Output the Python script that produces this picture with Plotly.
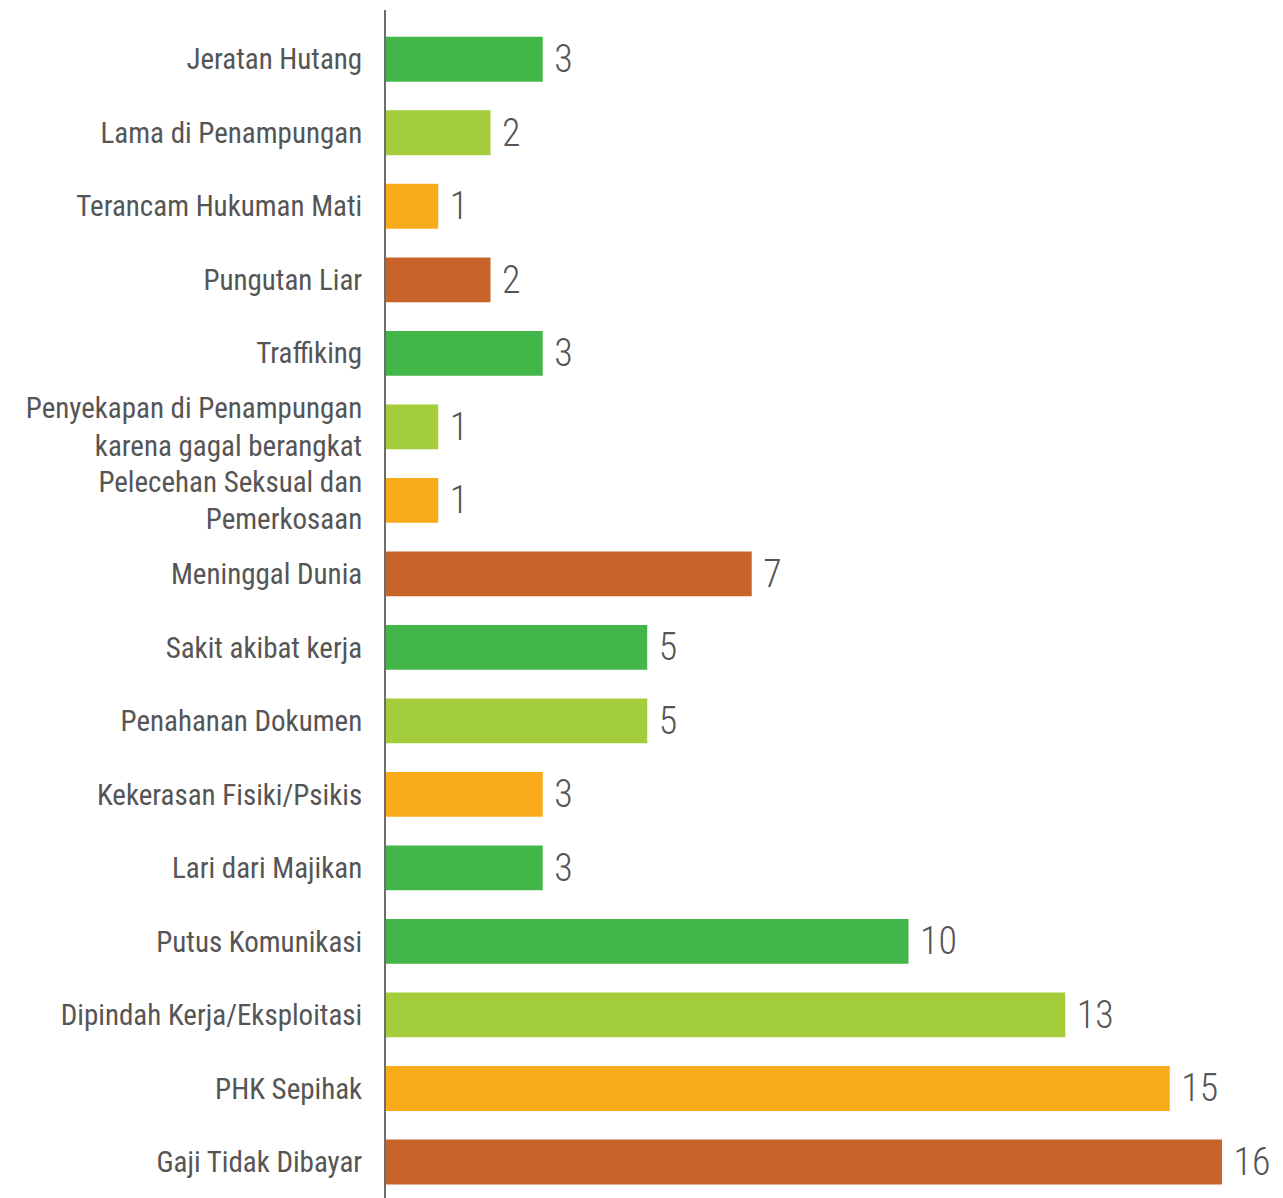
import plotly.graph_objects as go

categories = [
    "Jeratan Hutang",
    "Lama di Penampungan",
    "Terancam Hukuman Mati",
    "Pungutan Liar",
    "Traffiking",
    "Penyekapan di Penampungan<br>karena gagal berangkat",
    "Pelecehan Seksual dan<br>Pemerkosaan",
    "Meninggal Dunia",
    "Sakit akibat kerja",
    "Penahanan Dokumen",
    "Kekerasan Fisiki/Psikis",
    "Lari dari Majikan",
    "Putus Komunikasi",
    "Dipindah Kerja/Eksploitasi",
    "PHK Sepihak",
    "Gaji Tidak Dibayar",
]
values = [3, 2, 1, 2, 3, 1, 1, 7, 5, 5, 3, 3, 10, 13, 15, 16]
bar_colors = [
    "#43b649", "#a3cd3b", "#f9ab1a", "#c8642a",
    "#43b649", "#a3cd3b", "#f9ab1a", "#c8642a",
    "#43b649", "#a3cd3b", "#f9ab1a", "#43b649",
    "#43b649", "#a3cd3b", "#f9ab1a", "#c8642a",
]

FONT = "Liberation Sans Narrow, Roboto Condensed, Arial Narrow, Roboto, sans-serif"
TXT = "#555555"

fig = go.Figure(go.Bar(
    y=categories,
    x=values,
    orientation="h",
    marker=dict(color=bar_colors, line=dict(width=0)),
    width=0.61,
    text=[f" {v}" for v in values],
    textposition="outside",
    textfont=dict(family=FONT, size=44, color=TXT, weight=300),
    cliponaxis=False,
))

fig.update_layout(
    width=1275, height=1190,
    margin=dict(l=378, r=61, t=2, b=0, autoexpand=False),
    paper_bgcolor="white", plot_bgcolor="white",
    showlegend=False,
    font=dict(family=FONT, color=TXT),
    xaxis=dict(range=[0, 16], visible=False, showgrid=False, zeroline=False,
               automargin=False),
    yaxis=dict(
        categoryorder="array", categoryarray=categories,
        range=[15.49, -0.67],
        showgrid=False, zeroline=False, automargin=False,
        showline=True, linecolor="#6d6d6d", linewidth=2,
        ticks="", ticklabelstandoff=16,
        tickfont=dict(family=FONT, size=29, color=TXT),
    ),
)

fig.write_html("out.html")
